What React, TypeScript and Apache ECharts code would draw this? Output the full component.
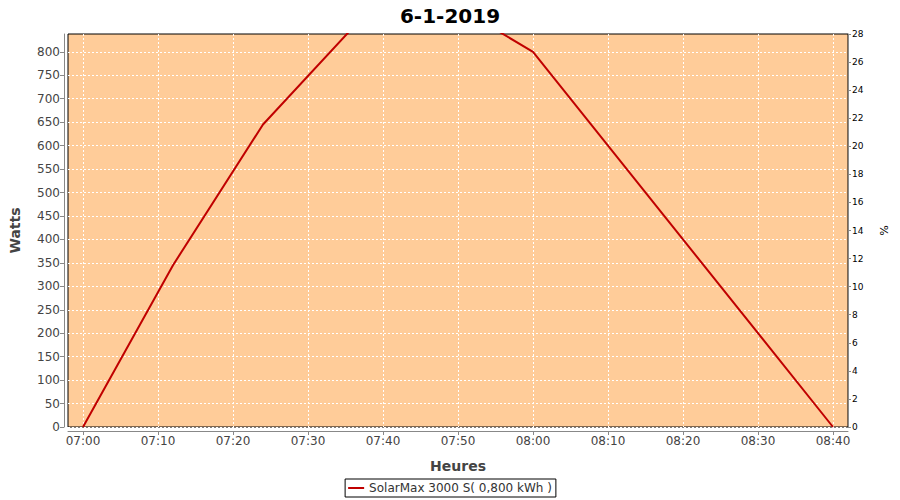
import React, { useEffect, useRef } from "react";
import * as echarts from "echarts";

// minutes after 07:00
const timeMinutes = [0, 12, 24, 36, 48, 60, 100];
const watts = [0, 345, 645, 852, 914, 800, 0];
const xTickMinutes = [0, 10, 20, 30, 40, 50, 60, 70, 80, 90, 100];
const leftTicks = [0, 50, 100, 150, 200, 250, 300, 350, 400, 450, 500, 550, 600, 650, 700, 750, 800];
const rightTicks = [0, 2, 4, 6, 8, 10, 12, 14, 16, 18, 20, 22, 24, 26, 28];
const seriesName = "SolarMax 3000 S( 0,800 kWh )";
const title = "6-1-2019";

const fmtTime = (m: number) => {
  const t = 7 * 60 + Math.round(m);
  const h = Math.floor(t / 60);
  const mm = t % 60;
  return String(h).padStart(2, "0") + ":" + String(mm).padStart(2, "0");
};

const FONT = "DejaVu Sans";

export default function App() {
  const ref = useRef<HTMLDivElement>(null);
  useEffect(() => {
    if (!ref.current) return;
    const chart = echarts.init(ref.current, undefined, { renderer: "svg" });
    chart.setOption({
      animation: false,
      backgroundColor: "#ffffff",
      textStyle: { fontFamily: FONT },
      title: {
        text: title,
        left: "center",
        top: 1,
        textStyle: { fontFamily: FONT, fontWeight: "bold", fontSize: 20, color: "#000" },
      },
      legend: {
        bottom: 3,
        left: "center",
        data: [seriesName],
        icon: "rect",
        itemWidth: 16,
        itemHeight: 2,
        itemGap: 4,
        borderColor: "#000",
        borderWidth: 1,
        borderRadius: 0,
        padding: [3, 4, 3, 3],
        textStyle: { fontFamily: FONT, fontSize: 12, color: "#333" },
      },
      grid: {
        left: 67,
        right: 52,
        top: 34,
        bottom: 73,
        show: true,
        backgroundColor: "#FFCC99",
        borderColor: "#000",
        borderWidth: 1,
        containLabel: false,
      },
      xAxis: {
        type: "value",
        min: -2,
        max: 102,
        offset: 4,
        name: "Heures",
        nameLocation: "middle",
        nameGap: 28,
        nameTextStyle: { fontFamily: FONT, fontWeight: "bold", fontSize: 14, color: "#444" },
        axisLine: { show: true, onZero: false, lineStyle: { color: "#888" } },
        axisTick: { show: true, length: 4, lineStyle: { color: "#888" }, customValues: xTickMinutes },
        axisLabel: {
          customValues: xTickMinutes,
          formatter: (v: number) => fmtTime(v),
          fontFamily: FONT,
          fontSize: 12,
          color: "#444",
          margin: 4,
        },
        splitLine: { show: true, lineStyle: { color: "#fff", type: [2, 2], width: 1 } },
      },
      yAxis: [
        {
          type: "value",
          min: 0,
          max: 838,
          offset: 4,
          position: "left",
          name: "Watts",
          nameLocation: "middle",
          nameGap: 42,
          nameRotate: 90,
          nameTextStyle: { fontFamily: FONT, fontWeight: "bold", fontSize: 14, color: "#444" },
          axisLine: { show: true, onZero: false, lineStyle: { color: "#888" } },
          axisTick: { show: true, length: 4, lineStyle: { color: "#888" }, customValues: leftTicks },
          axisLabel: {
            customValues: leftTicks,
            fontFamily: FONT,
            fontSize: 12,
            color: "#444",
            margin: 4,
          },
          splitLine: { show: true, lineStyle: { color: "#fff", type: [2, 2], width: 1 } },
        },
        {
          type: "value",
          min: 0,
          max: 28,
          offset: 0,
          position: "right",
          name: "%",
          nameLocation: "middle",
          nameGap: 30,
          nameRotate: -90,
          nameTextStyle: { fontFamily: FONT, fontSize: 11, color: "#000" },
          axisLine: { show: true, onZero: false, lineStyle: { color: "#888" } },
          axisTick: { show: true, length: 3, lineStyle: { color: "#888" }, customValues: rightTicks },
          axisLabel: {
            customValues: rightTicks,
            fontFamily: FONT,
            fontSize: 9,
            color: "#000",
            margin: 4,
          },
          splitLine: { show: false },
        },
      ],
      series: [
        {
          name: seriesName,
          type: "line",
          data: timeMinutes.map((t, i) => [t, watts[i]]),
          showSymbol: false,
          symbol: "none",
          clip: true,
          lineStyle: { color: "#C00000", width: 2 },
          itemStyle: { color: "#C00000" },
        },
      ],
    });
    return () => chart.dispose();
  }, []);
  return (
    <div
      ref={ref}
      style={{ position: "absolute", left: 0, top: 0, width: 900, height: 500 }}
    />
  );
}
